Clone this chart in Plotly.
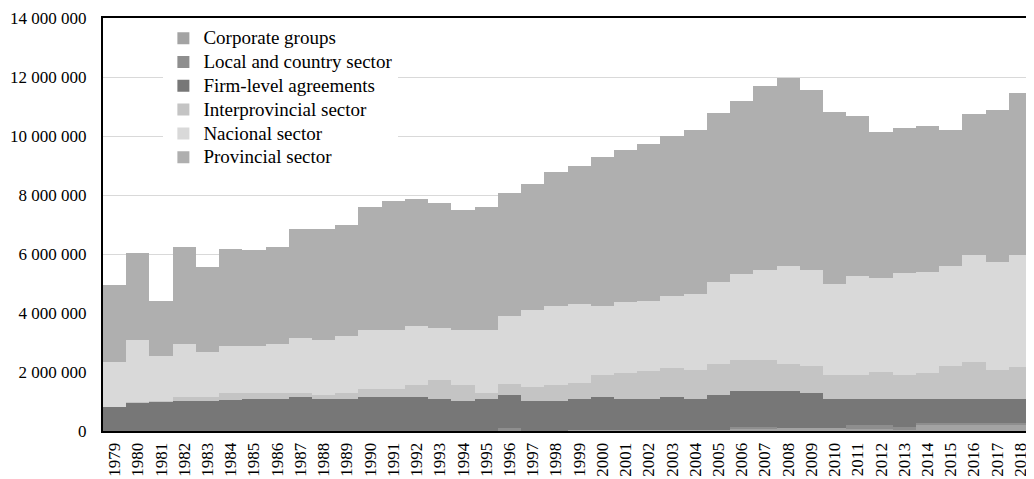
import plotly.graph_objects as go

years = [str(y) for y in range(1979, 2019)]

corporate_groups = [0]*20 + [50000, 50000, 50000, 50000, 50000, 50000, 50000,
                             60000, 60000, 100000, 100000, 100000, 60000, 60000,
                             50000, 200000, 200000, 200000, 200000, 200000]
local_country = [0]*17 + [100000, 0, 0, 0, 0, 0, 0, 0, 0, 0,
                          70000, 70000, 0, 0, 0, 140000, 140000, 90000,
                          80000, 80000, 80000, 80000, 80000]
firm_level = [815000, 950000, 995000, 1005000, 1005000, 1060000, 1070000, 1070000, 1140000, 1070000,
              1070000, 1140000, 1140000, 1140000, 1070000, 1005000, 1070000, 1110000, 1005000, 1005000,
              1020000, 1090000, 1020000, 1020000, 1090000, 1020000, 1160000, 1215000, 1215000, 1245000,
              1180000, 970000, 870000, 870000, 930000, 790000, 790000, 790000, 790000, 790000]
interprovincial = [5000, 20000, 25000, 135000, 135000, 220000, 210000, 210000, 140000, 150000,
                   210000, 270000, 270000, 410000, 670000, 545000, 210000, 400000, 475000, 545000,
                   550000, 750000, 890000, 950000, 1010000, 1010000, 1070000, 1075000, 1075000, 935000,
                   940000, 820000, 820000, 940000, 820000, 890000, 1150000, 1280000, 1010000, 1090000]
nacional = [1510000, 2100000, 1520000, 1800000, 1540000, 1590000, 1610000, 1680000, 1860000, 1860000,
            1950000, 2010000, 2010000, 2020000, 1750000, 1870000, 2140000, 2300000, 2620000, 2690000,
            2670000, 2360000, 2400000, 2380000, 2420000, 2550000, 2760000, 2890000, 3050000, 3300000,
            3250000, 3090000, 3350000, 3180000, 3480000, 3430000, 3360000, 3630000, 3660000, 3820000]
provincial = [2610000, 2970000, 1860000, 3290000, 2890000, 3310000, 3230000, 3270000, 3720000, 3780000,
              3760000, 4170000, 4390000, 4290000, 4250000, 4060000, 4170000, 4170000, 4260000, 4530000,
              4680000, 5030000, 5160000, 5320000, 5430000, 5570000, 5730000, 5870000, 6230000, 6390000,
              6080000, 5830000, 5430000, 4940000, 4890000, 4940000, 4620000, 4760000, 5140000, 5470000]

series_names = ["Corporate groups", "Local and country sector", "Firm-level agreements",
                "Interprovincial sector", "Nacional sector", "Provincial sector"]
series_values = [corporate_groups, local_country, firm_level, interprovincial, nacional, provincial]
series_colors = ["#a3a3a3", "#8e8e8e", "#777777", "#c4c4c4", "#d9d9d9", "#afafaf"]

fig = go.Figure()
for name, vals, color in zip(series_names, series_values, series_colors):
    fig.add_trace(go.Bar(
        x=years, y=vals,
        name='<span style="font-size:19px">' + name + '</span>',
        hovertemplate=name + ": %{y}<extra></extra>",
        marker=dict(color=color, line=dict(width=0)),
    ))

serif = "Liberation Serif, Times New Roman, serif"
# the page body adds an 8px offset, so the figure is 8px smaller on each side
fig.update_layout(
    barmode="stack",
    bargap=0,
    width=1026, height=471,
    margin=dict(l=95, r=2, t=10, b=48),
    paper_bgcolor="white",
    plot_bgcolor="white",
    separators=". ",
    font=dict(family=serif, color="black", size=17),
    legend=dict(
        x=0.065, y=0.992, xanchor="left", yanchor="top",
        traceorder="normal",
        bgcolor="white",
        font=dict(family=serif, size=16, color="black"),
        tracegroupgap=0,
        itemclick=False,
    ),
    showlegend=True,
)
fig.update_xaxes(
    type="category",
    tickangle=-90,
    tickfont=dict(family=serif, size=17),
    ticklabelstandoff=3,
    automargin=False,
    showline=True, linecolor="black", linewidth=2, mirror=True,
    ticks="", showgrid=False,
)
fig.update_yaxes(
    range=[0, 14000000],
    dtick=2000000,
    tickformat=",d",
    tickfont=dict(family=serif, size=17),
    ticklabelstandoff=11,
    automargin=False,
    showgrid=True, gridcolor="#d9d9d9", gridwidth=1,
    showline=True, linecolor="black", linewidth=2, mirror=True,
    ticks="", zeroline=False,
)
fig.write_html("out.html")
